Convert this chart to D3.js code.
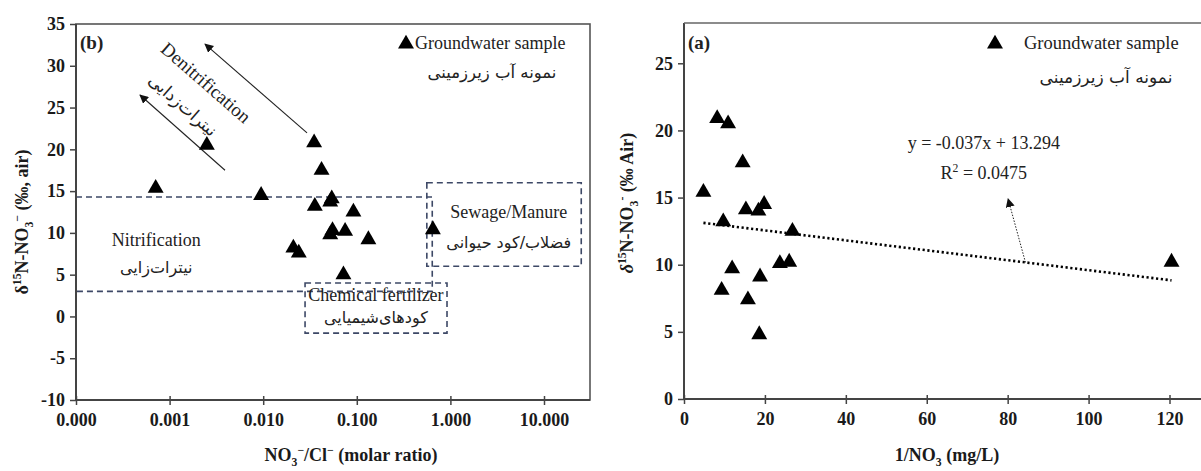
<!DOCTYPE html>
<html>
<head>
<meta charset="utf-8">
<script src="https://cdn.jsdelivr.net/npm/d3@7"></script>
<style>
  body { margin: 0; background: #fff; }
  svg { display: block; }
  .tick text { font-family: "Liberation Serif", serif; font-weight: bold; font-size: 18px; fill: #1a1a1a; }
  .tick line { stroke: #444; stroke-width: 1.5; }
</style>
</head>
<body>
<svg width="1201" height="471"></svg>
<script>
// panel (b): NO3/Cl ratio vs d15N
var ratioB = [0.00071, 0.0025, 0.0095, 0.035, 0.042, 0.054, 0.052, 0.0356, 0.092, 0.055, 0.052, 0.075, 0.133, 0.021, 0.024, 0.072, 0.65];
var d15B   = [15.35, 20.5, 14.5, 20.8, 17.5, 14.1, 13.7, 13.2, 12.5, 10.3, 9.8, 10.2, 9.2, 8.2, 7.6, 5.0, 10.4];
// panel (a): 1/NO3 vs d15N
var invNO3 = [4.8, 8.2, 10.9, 14.5, 15.3, 18.4, 19.8, 9.7, 26.8, 9.3, 11.9, 15.8, 18.8, 18.6, 23.7, 26.0, 120.5];
var d15A   = [15.4, 20.9, 20.5, 17.6, 14.1, 14.0, 14.5, 13.2, 12.5, 8.1, 9.7, 7.4, 9.1, 4.8, 10.1, 10.2, 10.2];

var xTicksB = [0.0001, 0.001, 0.01, 0.1, 1, 10];
var xTickLabelsB = ["0.000", "0.001", "0.010", "0.100", "1.000", "10.000"];
var yTicksB = [-10, -5, 0, 5, 10, 15, 20, 25, 30, 35];
var xTicksA = [0, 20, 40, 60, 80, 100, 120];
var yTicksA = [0, 5, 10, 15, 20, 25];

var slope = -0.037, intercept = 13.294, r2 = 0.0475;

// source zones in data units [x0, x1, y0, y1]
var zoneNames = ["Nitrification", "Chemical fertilizer", "Sewage/Manure"];
var zoneNamesFa = ["نیترات‌زایی", "کودهای‌شیمیایی", "فضلاب/کود حیوانی"];
var zoneBoxes = [[0.0001, 0.64, 3, 14.3], [0.028, 0.92, -2, 4], [0.56, 25, 6, 16]];
var zoneLabelAt = [[0.00072, 9.2, 5.9], [0.16, 2.6, -0.1], [4.2, 12.5, 8.8]];
// denitrification arrows [tailX, tailY, tipX, tipY]
var denitArrows = [[0.0294, 21.96, 0.00239, 32.6], [0.00391, 17.5, 0.000483, 26.5]];

var svg = d3.select("svg");
var serif = "'Liberation Serif', 'Times New Roman', serif";
var persian = "'DejaVu Sans', sans-serif";

svg.append("defs").append("marker")
  .attr("id", "head").attr("viewBox", "0 0 10 10")
  .attr("refX", 9).attr("refY", 5)
  .attr("markerWidth", 9).attr("markerHeight", 9)
  .attr("markerUnits", "userSpaceOnUse")
  .attr("orient", "auto")
  .append("path").attr("d", "M0,0L10,5L0,10Z").attr("fill", "#111");

function rich(t, parts, size) {
  var shift = 0;
  parts.forEach(function(p) {
    var target = p[1] === "sup" ? -0.4 * size : p[1] === "sub" ? 0.25 * size : 0;
    t.append("tspan")
      .attr("dy", target - shift)
      .attr("font-size", p[1] ? size * 0.65 : size)
      .attr("font-style", p[2] || null)
      .text(p[0]);
    shift = target;
  });
}

var tri = d3.symbol().type(d3.symbolTriangle).size(110);

// ---------- panel (b) ----------
var xB = d3.scaleLog().domain([0.0001, 10]).range([76, 544]);
var yB = d3.scaleLinear().domain([-10, 35]).range([400, 24]);
var rightB = 590;

var gB = svg.append("g");

gB.selectAll("rect.zone")
  .data(zoneBoxes)
  .enter().append("rect")
  .attr("class", "zone")
  .attr("x", function(d) { return xB(d[0]); })
  .attr("y", function(d) { return yB(d[3]); })
  .attr("width", function(d) { return xB(d[1]) - xB(d[0]); })
  .attr("height", function(d) { return yB(d[2]) - yB(d[3]); })
  .attr("fill", "none")
  .attr("stroke", "#3d4866")
  .attr("stroke-width", 1.6)
  .attr("stroke-dasharray", "6,4");

zoneLabelAt.forEach(function(p, i) {
  gB.append("text")
    .attr("x", xB(p[0])).attr("y", yB(p[1]))
    .attr("text-anchor", "middle").attr("dominant-baseline", "central")
    .attr("font-family", serif).attr("font-size", 18).attr("fill", "#222")
    .text(zoneNames[i]);
  gB.append("text")
    .attr("x", xB(p[0])).attr("y", yB(p[2]))
    .attr("text-anchor", "middle").attr("dominant-baseline", "central")
    .attr("font-family", persian).attr("font-size", 16).attr("fill", "#222")
    .text(zoneNamesFa[i]);
});

// frame
gB.append("rect")
  .attr("x", 76).attr("y", 24)
  .attr("width", rightB - 76).attr("height", 400 - 24)
  .attr("fill", "none").attr("stroke", "#555").attr("stroke-width", 1.6);

var axBx = gB.append("g").attr("transform", "translate(0,400)")
  .call(d3.axisBottom(xB).tickValues(xTicksB)
    .tickFormat(function(d, i) { return xTickLabelsB[i]; })
    .tickSize(5).tickPadding(8));
axBx.select(".domain").remove();
axBx.selectAll(".tick line").attr("y1", -4);

var axBy = gB.append("g").attr("transform", "translate(76,0)")
  .call(d3.axisLeft(yB).tickValues(yTicksB)
    .tickFormat(function(d) { return String(d); })
    .tickSize(6).tickPadding(5));
axBy.select(".domain").remove();

gB.append("line").attr("x1", 76).attr("x2", rightB).attr("y1", 400).attr("y2", 400)
  .attr("stroke", "#444").attr("stroke-width", 2);
gB.append("line").attr("x1", 76).attr("x2", 76).attr("y1", 24).attr("y2", 400)
  .attr("stroke", "#444").attr("stroke-width", 2);

// denitrification arrows
gB.selectAll("line.denit")
  .data(denitArrows)
  .enter().append("line")
  .attr("class", "denit")
  .attr("x1", function(d) { return xB(d[0]); })
  .attr("y1", function(d) { return yB(d[1]); })
  .attr("x2", function(d) { return xB(d[2]); })
  .attr("y2", function(d) { return yB(d[3]); })
  .attr("stroke", "#222").attr("stroke-width", 1.1)
  .attr("marker-end", "url(#head)");

var a0 = denitArrows[0];
var ang = Math.atan2(yB(a0[1]) - yB(a0[3]), xB(a0[0]) - xB(a0[2])) * 180 / Math.PI;
gB.append("text")
  .attr("transform", "translate(" + xB(0.00245) + "," + yB(28.0) + ")rotate(" + ang + ")")
  .attr("text-anchor", "middle").attr("dominant-baseline", "central")
  .attr("font-family", serif).attr("font-size", 19).attr("fill", "#222")
  .text("Denitrification");
gB.append("text")
  .attr("transform", "translate(" + xB(0.00139) + "," + yB(25.3) + ")rotate(" + ang + ")")
  .attr("text-anchor", "middle").attr("dominant-baseline", "central")
  .attr("font-family", persian).attr("font-size", 17).attr("fill", "#222")
  .text("نیترات‌زدایی");

gB.selectAll("path.pt")
  .data(d3.range(ratioB.length))
  .enter().append("path")
  .attr("class", "pt")
  .attr("d", tri)
  .attr("transform", function(i) { return "translate(" + xB(ratioB[i]) + "," + yB(d15B[i]) + ")"; })
  .attr("fill", "#000");

gB.append("text").attr("x", 80).attr("y", 42).attr("dominant-baseline", "central")
  .attr("font-family", serif).attr("font-weight", "bold").attr("font-size", 19)
  .attr("fill", "#222").text("(b)");

gB.append("path").attr("d", tri).attr("transform", "translate(406,44)").attr("fill", "#000");
gB.append("text").attr("x", 415).attr("y", 43).attr("dominant-baseline", "central")
  .attr("font-family", serif).attr("font-size", 18).attr("fill", "#222")
  .text("Groundwater sample");
gB.append("text").attr("x", 492).attr("y", 72).attr("text-anchor", "middle").attr("dominant-baseline", "central")
  .attr("font-family", persian).attr("font-size", 16.5).attr("fill", "#222")
  .text("نمونه آب زیرزمینی");

var tBx = gB.append("text").attr("x", 351).attr("y", 461).attr("text-anchor", "middle")
  .attr("font-family", serif).attr("font-weight", "bold").attr("fill", "#1a1a1a");
rich(tBx, [["NO", ""], ["3", "sub"], ["\u2212", "sup"], ["/Cl", ""], ["\u2212", "sup"], [" (molar ratio)", ""]], 18);

var tBy = gB.append("text").attr("transform", "translate(28,222)rotate(-90)").attr("text-anchor", "middle")
  .attr("font-family", serif).attr("font-weight", "bold").attr("fill", "#1a1a1a");
rich(tBy, [["\u03b4", ""], ["15", "sup"], ["N-NO", ""], ["3", "sub"], ["\u2212", "sup"], [" (\u2030, air)", ""]], 18);

// ---------- panel (a) ----------
var xA = d3.scaleLinear().domain([0, 120]).range([684, 1169.5]);
var yA = d3.scaleLinear().domain([0, 28]).range([399, 23]);

var gA = svg.append("g");

var axAx = gA.append("g").attr("transform", "translate(0,399)")
  .call(d3.axisBottom(xA).tickValues(xTicksA).tickSize(5).tickPadding(8));
axAx.select(".domain").remove();
axAx.selectAll(".tick line").attr("y1", -4);

var axAy = gA.append("g").attr("transform", "translate(684,0)")
  .call(d3.axisLeft(yA).tickValues(yTicksA).tickSize(6).tickPadding(5));
axAy.select(".domain").remove();

gA.append("line").attr("x1", 684).attr("x2", 1201).attr("y1", 399).attr("y2", 399)
  .attr("stroke", "#444").attr("stroke-width", 2);
gA.append("line").attr("x1", 684).attr("x2", 684).attr("y1", 23).attr("y2", 399)
  .attr("stroke", "#444").attr("stroke-width", 2);
gA.append("line").attr("x1", 684).attr("x2", 1201).attr("y1", 23).attr("y2", 23)
  .attr("stroke", "#666").attr("stroke-width", 1.6);

var ext = d3.extent(invNO3);
gA.append("line")
  .attr("x1", xA(ext[0])).attr("y1", yA(slope * ext[0] + intercept))
  .attr("x2", xA(ext[1])).attr("y2", yA(slope * ext[1] + intercept))
  .attr("stroke", "#000").attr("stroke-width", 2.6)
  .attr("stroke-dasharray", "2.2,2.6");

gA.selectAll("path.pt")
  .data(d3.range(invNO3.length))
  .enter().append("path")
  .attr("class", "pt")
  .attr("d", tri)
  .attr("transform", function(i) { return "translate(" + xA(invNO3[i]) + "," + yA(d15A[i]) + ")"; })
  .attr("fill", "#000");

// arrow from the fit line to the equation
gA.append("line")
  .attr("x1", xA(84.4)).attr("y1", yA(slope * 84.4 + intercept))
  .attr("x2", xA(80.1)).attr("y2", yA(14.9))
  .attr("stroke", "#222").attr("stroke-width", 1)
  .attr("stroke-dasharray", "1.5,1.5")
  .attr("marker-end", "url(#head)");

gA.append("text").attr("x", xA(74.1)).attr("y", yA(19.06))
  .attr("text-anchor", "middle").attr("dominant-baseline", "central")
  .attr("font-family", serif).attr("font-size", 18).attr("fill", "#222")
  .text("y = " + slope + "x + " + intercept);
var tR = gA.append("text").attr("x", xA(74.1)).attr("y", yA(16.8) + 6)
  .attr("text-anchor", "middle")
  .attr("font-family", serif).attr("fill", "#222");
rich(tR, [["R", ""], ["2", "sup"], [" = " + r2, ""]], 18);

gA.append("text").attr("x", 688).attr("y", 42).attr("dominant-baseline", "central")
  .attr("font-family", serif).attr("font-weight", "bold").attr("font-size", 19)
  .attr("fill", "#222").text("(a)");

gA.append("path").attr("d", tri).attr("transform", "translate(995,44)").attr("fill", "#000");
gA.append("text").attr("x", 1024).attr("y", 43).attr("dominant-baseline", "central")
  .attr("font-family", serif).attr("font-size", 18.5).attr("fill", "#222")
  .text("Groundwater sample");
gA.append("text").attr("x", 1106).attr("y", 77).attr("text-anchor", "middle").attr("dominant-baseline", "central")
  .attr("font-family", persian).attr("font-size", 17).attr("fill", "#222")
  .text("نمونه آب زیرزمینی");

var tAx = gA.append("text").attr("x", 947).attr("y", 461).attr("text-anchor", "middle")
  .attr("font-family", serif).attr("font-weight", "bold").attr("fill", "#1a1a1a");
rich(tAx, [["1/NO", ""], ["3", "sub"], [" (mg/L)", ""]], 18);

var tAy = gA.append("text").attr("transform", "translate(633,203)rotate(-90)").attr("text-anchor", "middle")
  .attr("font-family", serif).attr("font-weight", "bold").attr("fill", "#1a1a1a");
rich(tAy, [["\u03b4", "", "italic"], ["15", "sup"], ["N-NO", ""], ["3", "sub"], ["-", "sup"], [" (\u2030 Air)", ""]], 18);
</script>
</body>
</html>
